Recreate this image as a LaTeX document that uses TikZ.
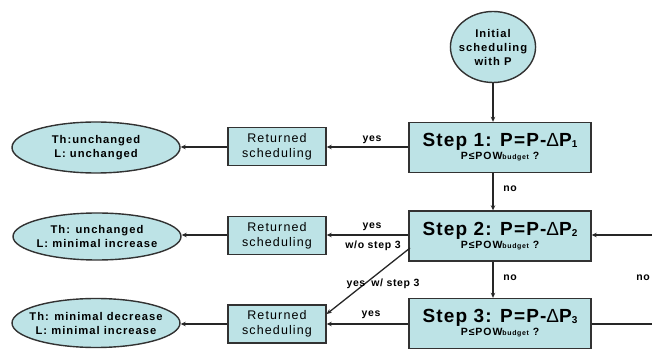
\documentclass[tikz,border=0pt]{standalone}
\usepackage{fontspec}
\setmainfont{Liberation Sans}[LetterSpace=6]
\newfontfamily\widefont{Liberation Sans}[LetterSpace=9]
\newfontfamily\deltafont{Liberation Sans}
\usetikzlibrary{shapes.geometric,arrows.meta}
\definecolor{boxfill}{RGB}{189,227,230}
\definecolor{edgecol}{RGB}{50,50,50}
\tikzset{
  base/.style={draw=edgecol,line width=1.4pt,fill=boxfill,inner sep=0pt,align=center},
  stepbox/.style={base,rectangle,minimum width=182pt,minimum height=50pt},
  retbox/.style={base,rectangle,minimum width=98pt,minimum height=38pt,font=\widefont\fontsize{12.5}{15}\selectfont},
  outell/.style={base,ellipse,minimum width=168pt,minimum height=49pt,inner xsep=-16pt,inner ysep=-6pt,font=\widefont\bfseries\fontsize{11.2}{14}\selectfont},
  conn/.style={draw=black!85,line width=1.3pt,-{Stealth[length=5pt,width=4.5pt]}},
  plain/.style={draw=black!85,line width=1.3pt},
  lab/.style={font=\bfseries\fontsize{10.5}{12}\selectfont,inner sep=0pt}
}
\newcommand{\steptext}[1]{{\bfseries\fontsize{19}{21}\selectfont Step #1: P=P-{\deltafont\mdseries Δ}P\raisebox{-1pt}{\fontsize{10}{10}\selectfont #1}}\\[1pt]{\widefont\bfseries\fontsize{10.5}{12}\selectfont P≤POW{\fontsize{7}{7}\selectfont budget} ?}}
\begin{document}
\begin{tikzpicture}[x=1pt,y=-1pt]
\useasboundingbox (0,0) rectangle (652,352);
\node[base,ellipse,minimum width=85pt,minimum height=71pt,inner sep=-4pt,font=\widefont\bfseries\fontsize{11.2}{14}\selectfont] (init) at (493,47) {Initial\\scheduling\\with P};
\node[stepbox] (s1) at (500,147.5) {\steptext{1}};
\node[stepbox] (s2) at (500,236) {\steptext{2}};
\node[stepbox] (s3) at (500,323.5) {\steptext{3}};
\node[retbox] (r1) at (277,146.5) {Returned\\scheduling};
\node[retbox] (r2) at (277,235.5) {Returned\\scheduling};
\node[retbox] (r3) at (277,324) {Returned\\scheduling};
\node[outell,minimum height=51pt] (e1) at (96,147.5) {Th:unchanged\\L: unchanged};
\node[outell,minimum height=47pt] (e2) at (97,236.5) {Th: unchanged\\L: minimal increase};
\node[outell] (e3) at (96,323) {Th: minimal decrease\\L: minimal increase};
\coordinate (rin) at (652,235);
\coordinate (rout) at (652,324);
\coordinate (dstart) at (410,248);
\draw[conn] (init.south) -- (init.south |- s1.north);
\draw[conn] (s1.south -| init.south) -- (init.south |- s2.north);
\draw[conn] (s2.south -| init.south) -- (init.south |- s3.north);
\draw[conn] (s1.west |- 0,147) -- (r1.east |- 0,147);
\draw[conn] (r1.west |- 0,147) -- (e1.east |- 0,147);
\draw[conn] (s2.west |- 0,235) -- (r2.east |- 0,235);
\draw[conn] (r2.west |- 0,235) -- (e2.east |- 0,235);
\draw[conn] (s3.west |- 0,324) -- (r3.east |- 0,324);
\draw[conn] (r3.west |- 0,324) -- (e3.east |- 0,324);
\draw[conn] (dstart) -- (r3.east |- 0,314);
\draw[conn] (rin) -- (s2.east |- rin);
\draw[plain] (s3.east |- rout) -- (rout);
\node[lab] (y1) at (372,140) {yes};
\node[lab] (y2) at (372,226.5) {yes};
\node[lab] (wo) at (373,246) {w/o step 3};
\node[lab] (yw) at (383,283.5) {yes\hspace{6pt}w/ step 3};
\node[lab] (y3) at (371,315) {yes};
\node[lab] (n1) at (510,189) {no};
\node[lab] (n2) at (510,278) {no};
\node[lab] (n3) at (643,278) {no};
\end{tikzpicture}
\end{document}
